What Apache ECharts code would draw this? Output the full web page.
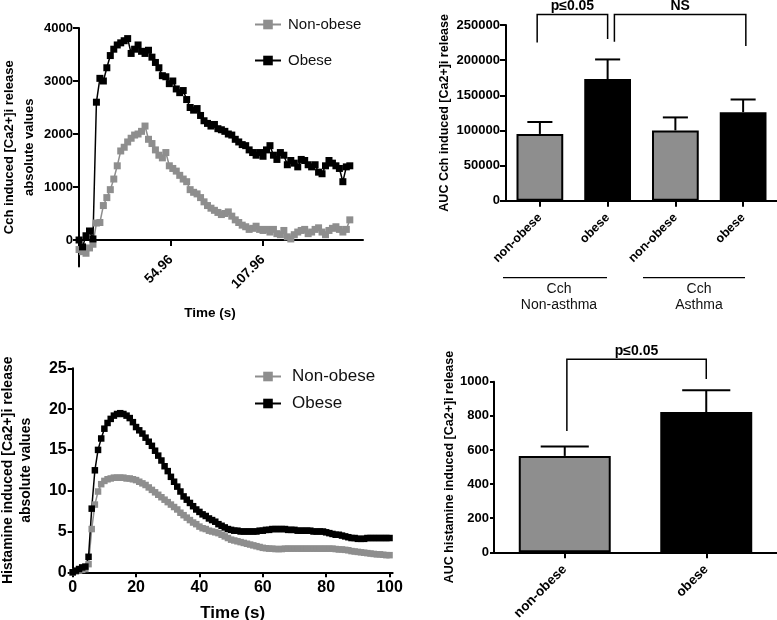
<!DOCTYPE html>
<html>
<head>
<meta charset="utf-8">
<script src="https://cdn.jsdelivr.net/npm/echarts@6/dist/echarts.min.js"></script>
<style>
  html, body { margin: 0; padding: 0; background: #fff; }
  #main { width: 777px; height: 620px; }
</style>
</head>
<body>
<div id="main"></div>
<script>
// Cch time course, sampled every 2 s from t = 2 s
const cchNonObese = [-180, -220, -250, -150, -80, 320, 330, 650, 800, 950, 1150, 1400, 1680, 1750,
  1850, 1920, 1980, 2000, 2050, 2150, 1900, 1820, 1700, 1600, 1550, 1650, 1400, 1350, 1300, 1220,
  1150, 1100, 950, 900, 870, 800, 720, 650, 600, 560, 520, 480, 500, 530, 450, 380, 330, 280, 250,
  200, 220, 260, 200, 180, 200, 150, 200, 120, 100, 180, 60, 20, 100, 150, 180, 200, 120, 150, 200,
  230, 150, 100, 180, 220, 250, 200, 150, 200, 380];
const cchObese = [0, -130, 80, 170, 20, 2600, 3050, 3000, 3250, 3480, 3600, 3680, 3720, 3760, 3800,
  3520, 3600, 3680, 3560, 3520, 3580, 3450, 3350, 3250, 3100, 3080, 2950, 3000, 2850, 2780, 2820,
  2650, 2500, 2450, 2480, 2350, 2250, 2200, 2150, 2180, 2100, 2080, 2050, 2000, 1980, 1900, 1850,
  1800, 1780, 1700, 1650, 1600, 1650, 1580, 1700, 1780, 1600, 1520, 1650, 1600, 1420, 1500, 1450,
  1380, 1520, 1500, 1420, 1380, 1420, 1280, 1250, 1400, 1500, 1450, 1400, 1350, 1100, 1380, 1400];
const cchTicks = [54.96, 107.96];
const cchYTicks = [0, 1000, 2000, 3000, 4000];

// Cch AUC bars (mean, SEM)
const cchGroups = ['non-obese', 'obese', 'non-obese', 'obese'];
const cchAuc = [95000, 173000, 100000, 126000];
const cchSem = [17000, 28000, 18500, 18000];

// Histamine time course, sampled every 1 s from t = 0 s
const histNonObese = [0, 0.1, 0.2, 0.3, 0.4, 1.0, 5.3, 8.3, 9.9, 10.8, 11.2, 11.4, 11.5, 11.6, 11.6,
  11.6, 11.6, 11.5, 11.5, 11.4, 11.3, 11.1, 10.9, 10.7, 10.4, 10.1, 9.8, 9.5, 9.2, 8.9, 8.6, 8.3, 8.0,
  7.7, 7.3, 7.0, 6.7, 6.4, 6.1, 5.9, 5.6, 5.4, 5.3, 5.1, 5.0, 4.9, 4.8, 4.6, 4.4, 4.2, 4.0, 3.9, 3.8,
  3.7, 3.6, 3.5, 3.4, 3.3, 3.2, 3.1, 3.0, 2.95, 2.9, 2.9, 2.85, 2.85, 2.85, 2.9, 2.9, 2.9, 2.9, 2.9,
  2.9, 2.9, 2.9, 2.9, 2.9, 2.9, 2.9, 2.9, 2.9, 2.9, 2.9, 2.85, 2.8, 2.8, 2.75, 2.7, 2.6, 2.55, 2.5,
  2.45, 2.4, 2.35, 2.3, 2.25, 2.2, 2.2, 2.15, 2.1, 2.1];
const histObese = [0, 0.2, 0.4, 0.6, 0.7, 1.9, 7.8, 12.5, 15.0, 16.4, 17.6, 18.3, 18.8, 19.2, 19.4,
  19.5, 19.4, 19.2, 18.9, 18.4, 17.8, 17.4, 17.0, 16.5, 16.0, 15.5, 14.9, 14.3, 13.7, 13.0, 12.4,
  11.7, 11.1, 10.5, 9.9, 9.3, 8.9, 8.5, 8.1, 7.7, 7.4, 7.1, 6.9, 6.6, 6.4, 6.2, 5.9, 5.7, 5.5, 5.3,
  5.2, 5.1, 5.1, 5.0, 5.0, 5.0, 5.0, 5.0, 5.0, 5.1, 5.1, 5.2, 5.2, 5.3, 5.3, 5.3, 5.3, 5.3, 5.2, 5.2,
  5.2, 5.1, 5.1, 5.1, 5.1, 5.1, 5.0, 5.0, 5.0, 5.0, 4.9, 4.8, 4.7, 4.6, 4.6, 4.5, 4.4, 4.3, 4.2, 4.2,
  4.1, 4.1, 4.1, 4.2, 4.2, 4.2, 4.2, 4.2, 4.2, 4.2, 4.2];

// Histamine AUC bars (mean, SEM)
const histGroups = ['non-obese', 'obese'];
const histAuc = [565, 822];
const histSem = [55, 128];

// significance brackets: [from, to, top, leftEnd, rightEnd, label]
const cchBrackets = [[0, 1, 265000, 225000, 230000, 'p≤0.05'], [1, 3, 265000, 226000, 220000, 'NS']];
const histBrackets = [[0, 1, 1131, 711, 1016, 'p≤0.05']];

const GRAY = '#8e8e8e';
const FONT = 'Liberation Sans, Arial, sans-serif';

const cchTime = cchObese.map((_, i) => 2 + 2 * i);
const histTime = histObese.map((_, i) => i);
const pairs = (xs, ys) => ys.map((y, i) => [xs[i], y]);
const plain = (v) => String(v);

function errorBars(capRatio) {
  return function (params, api) {
    const base = api.coord([api.value(0), api.value(1)]);
    const top = api.coord([api.value(0), api.value(1) + api.value(2)]);
    const half = api.size([1, 0])[0] * capRatio / 2;
    const st = { stroke: '#000', lineWidth: 2 };
    return {
      type: 'group',
      children: [
        { type: 'line', shape: { x1: base[0], y1: base[1], x2: top[0], y2: top[1] }, style: st },
        { type: 'line', shape: { x1: top[0] - half, y1: top[1], x2: top[0] + half, y2: top[1] }, style: st }
      ]
    };
  };
}

function brackets(shifts) {
  return function (params, api) {
    const band = api.size([1, 0])[0];
    const s = shifts[params.dataIndex] || [0, 0];
    const a = api.coord([api.value(0), api.value(2)]);
    const b = api.coord([api.value(1), api.value(2)]);
    const x1 = a[0] + s[0] * band, x2 = b[0] + s[1] * band;
    const yl = api.coord([api.value(0), api.value(3)])[1];
    const yr = api.coord([api.value(1), api.value(4)])[1];
    return {
      type: 'group',
      children: [
        { type: 'polyline', shape: { points: [[x1, yl], [x1, a[1]], [x2, a[1]], [x2, yr]] },
          style: { stroke: '#000', lineWidth: 1.5, fill: null } },
        { type: 'text', style: { text: api.value(5), x: (x1 + x2) / 2, y: a[1] - 1,
          align: 'center', verticalAlign: 'bottom', font: 'bold 14px ' + FONT, fill: '#000' } }
      ]
    };
  };
}

const axisLine = { show: true, onZero: true, lineStyle: { color: '#000', width: 2 } };
const tick = (len) => ({ show: true, length: len, lineStyle: { color: '#000', width: 2 } });
const boldLabel = (size, extra) => Object.assign({ color: '#000', fontWeight: 'bold', fontSize: size,
  fontFamily: FONT, formatter: plain }, extra || {});
const nameStyle = (size, extra) => Object.assign({ color: '#000', fontWeight: 'bold', fontSize: size, fontFamily: FONT }, extra || {});

const chart = echarts.init(document.getElementById('main'));
chart.setOption({
  animation: false,
  backgroundColor: '#fff',
  textStyle: { fontFamily: FONT },
  grid: [
    { left: 79, top: 28, width: 284, height: 238.5, outerBoundsMode: 'none' },
    { left: 506, top: 25, width: 271, height: 175.7, outerBoundsMode: 'none' },
    { left: 72.7, top: 368.3, width: 320, height: 204, outerBoundsMode: 'none' },
    { left: 494, top: 381.7, width: 283, height: 170.6, outerBoundsMode: 'none' }
  ],
  legend: [
    { orient: 'vertical', left: 249, top: 12, itemWidth: 26, itemHeight: 12, itemGap: 21,
      data: ['Non-obese', 'Obese'], textStyle: { fontSize: 15, color: '#111', padding: [0, 0, 0, 2] } },
    { orient: 'vertical', left: 249, top: 363, itemWidth: 26, itemHeight: 12, itemGap: 10,
      data: ['Non-obese', 'Obese'], textStyle: { fontSize: 17, color: '#111', padding: [0, 0, 0, 6] } }
  ],
  xAxis: [
    { gridIndex: 0, type: 'value', min: 1.96, max: 165.6, axisLine,
      axisTick: Object.assign(tick(6), { customValues: cchTicks }),
      axisLabel: boldLabel(13.5, { customValues: cchTicks, rotate: 45, margin: -9 }),
      splitLine: { show: false },
      name: 'Time (s)', nameLocation: 'middle', nameGap: 40,
      nameTextStyle: nameStyle(13.5, { padding: [0, 22, 0, 0] }) },
    { gridIndex: 1, type: 'category', data: cchGroups, axisLine,
      axisTick: Object.assign(tick(6), { alignWithLabel: true }),
      axisLabel: boldLabel(12.5, { rotate: 45, interval: 0, margin: 15 }) },
    { gridIndex: 2, type: 'value', min: 0, max: 101, interval: 20, axisLine,
      axisTick: tick(5), axisLabel: boldLabel(16, { margin: 7 }),
      splitLine: { show: false },
      name: 'Time (s)', nameLocation: 'middle', nameGap: 33, nameTextStyle: nameStyle(17) },
    { gridIndex: 3, type: 'category', data: histGroups, axisLine,
      axisTick: Object.assign(tick(6), { alignWithLabel: true }),
      axisLabel: boldLabel(13.5, { rotate: 45, interval: 0, margin: 15 }) }
  ],
  yAxis: [
    { gridIndex: 0, type: 'value', min: -500, max: 4000, axisLine,
      axisTick: Object.assign(tick(6), { customValues: cchYTicks }),
      axisLabel: boldLabel(13, { customValues: cchYTicks, margin: 6 }),
      splitLine: { show: false },
      name: 'Cch induced [Ca2+]i release\nabsolute values', nameLocation: 'middle', nameGap: 40,
      nameTextStyle: nameStyle(13, { lineHeight: 20 }) },
    { gridIndex: 1, type: 'value', min: 0, max: 250000, interval: 50000, axisLine,
      axisTick: tick(6), axisLabel: boldLabel(13, { margin: 6 }), splitLine: { show: false },
      name: 'AUC Cch induced [Ca2+]i release', nameLocation: 'middle', nameGap: 55,
      nameTextStyle: nameStyle(12.5) },
    { gridIndex: 2, type: 'value', min: 0, max: 25, interval: 5, axisLine,
      axisTick: tick(5), axisLabel: boldLabel(16, { margin: 6 }), splitLine: { show: false },
      name: 'Histamine induced [Ca2+]i release\nabsolute values', nameLocation: 'middle', nameGap: 38,
      nameTextStyle: nameStyle(14, { lineHeight: 18 }) },
    { gridIndex: 3, type: 'value', min: 0, max: 1000, interval: 200, axisLine,
      axisTick: tick(4), axisLabel: boldLabel(13, { margin: 5 }), splitLine: { show: false },
      name: 'AUC histamine induced [Ca2+]i release', nameLocation: 'middle', nameGap: 36,
      nameTextStyle: nameStyle(12.5) }
  ],
  series: [
    { name: 'Non-obese', type: 'line', xAxisIndex: 0, yAxisIndex: 0, data: pairs(cchTime, cchNonObese),
      symbol: 'rect', symbolSize: 7, itemStyle: { color: GRAY }, lineStyle: { color: GRAY, width: 1.5 } },
    { name: 'Obese', type: 'line', xAxisIndex: 0, yAxisIndex: 0, data: pairs(cchTime, cchObese),
      symbol: 'rect', symbolSize: 7, itemStyle: { color: '#000' }, lineStyle: { color: '#000', width: 1.5 } },
    { type: 'bar', xAxisIndex: 1, yAxisIndex: 1, data: cchAuc, barWidth: '69%',
      itemStyle: { color: (p) => (p.dataIndex % 2 ? '#000' : GRAY), borderColor: '#000', borderWidth: 2 } },
    { type: 'custom', xAxisIndex: 1, yAxisIndex: 1, renderItem: errorBars(0.37), z: 3,
      data: cchAuc.map((v, i) => [i, v, cchSem[i]]) },
    { type: 'custom', xAxisIndex: 1, yAxisIndex: 1, renderItem: brackets([[-0.04, 0], [0.1, 0.04]]),
      data: cchBrackets },
    { name: 'Non-obese', type: 'line', xAxisIndex: 2, yAxisIndex: 2, data: pairs(histTime, histNonObese),
      symbol: 'rect', symbolSize: 6.5, itemStyle: { color: GRAY }, lineStyle: { color: GRAY, width: 1.5 } },
    { name: 'Obese', type: 'line', xAxisIndex: 2, yAxisIndex: 2, data: pairs(histTime, histObese),
      symbol: 'rect', symbolSize: 6.5, itemStyle: { color: '#000' }, lineStyle: { color: '#000', width: 1.5 } },
    { type: 'bar', xAxisIndex: 3, yAxisIndex: 3, data: histAuc, barWidth: '65%',
      itemStyle: { color: (p) => (p.dataIndex % 2 ? '#000' : GRAY), borderColor: '#000', borderWidth: 2 } },
    { type: 'custom', xAxisIndex: 3, yAxisIndex: 3, renderItem: errorBars(0.34), z: 3,
      data: histAuc.map((v, i) => [i, v, histSem[i]]) },
    { type: 'custom', xAxisIndex: 3, yAxisIndex: 3, renderItem: brackets([[0.015, 0]]),
      data: histBrackets }
  ],
  graphic: [
    { type: 'line', shape: { x1: 503, y1: 277.7, x2: 607, y2: 277.7 }, style: { stroke: '#000', lineWidth: 1.2 } },
    { type: 'line', shape: { x1: 643, y1: 277.7, x2: 745, y2: 277.7 }, style: { stroke: '#000', lineWidth: 1.2 } },
    { type: 'text', x: 559, y: 297, style: { text: 'Cch\nNon-asthma', align: 'center', verticalAlign: 'middle',
      font: '14px ' + FONT, lineHeight: 16, fill: '#111' } },
    { type: 'text', x: 699, y: 297, style: { text: 'Cch\nAsthma', align: 'center', verticalAlign: 'middle',
      font: '14px ' + FONT, lineHeight: 16, fill: '#111' } }
  ]
});
</script>
</body>
</html>
